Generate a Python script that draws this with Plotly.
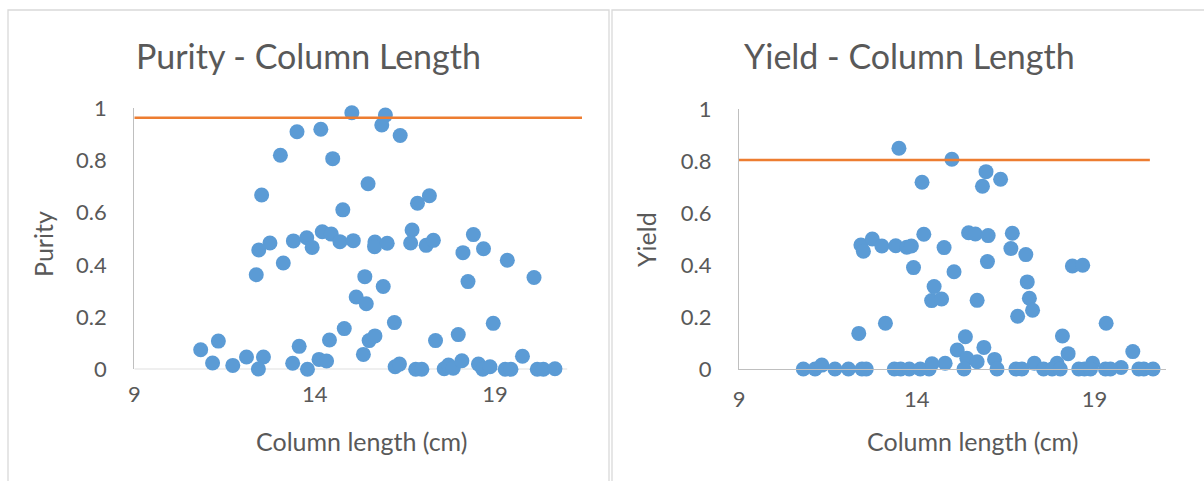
import plotly.graph_objects as go

# ---------------- data ----------------
purity_x = [15.03, 15.96, 15.86, 16.37, 13.51, 14.17, 13.05, 14.50, 15.48, 12.53,
            14.78, 16.85, 17.18, 14.21, 14.46, 13.78, 13.41, 12.76, 12.45, 13.93,
            14.70, 15.07, 15.67, 15.66, 16.01, 16.70, 16.66, 17.09, 17.29, 18.40,
            18.11, 18.68, 19.34, 20.08, 12.38, 13.13, 15.39, 15.90, 18.25,
            15.15, 15.43, 16.21, 14.82, 14.41, 15.51, 15.67, 15.35, 17.35, 17.98,
            18.95, 19.76, 10.84, 11.33, 11.17, 11.73, 12.11, 12.58, 12.44, 13.39,
            13.57, 13.80, 14.12, 14.33, 16.23, 16.35, 16.80, 16.97, 17.59, 17.71,
            17.84, 18.08, 18.54, 18.66, 18.86, 19.28, 19.44, 20.17, 20.34, 20.66]
purity_y = [0.983, 0.974, 0.936, 0.896, 0.910, 0.920, 0.820, 0.807, 0.711, 0.668,
            0.611, 0.636, 0.665, 0.527, 0.518, 0.504, 0.492, 0.484, 0.457, 0.467,
            0.489, 0.493, 0.488, 0.470, 0.483, 0.534, 0.484, 0.475, 0.494, 0.516,
            0.447, 0.462, 0.418, 0.352, 0.362, 0.407, 0.355, 0.317, 0.336,
            0.277, 0.251, 0.179, 0.156, 0.112, 0.110, 0.128, 0.057, 0.110, 0.133,
            0.176, 0.050, 0.075, 0.108, 0.024, 0.015, 0.047, 0.047, 0.001, 0.023,
            0.088, 0.000, 0.038, 0.032, 0.010, 0.020, 0.000, 0.000, 0.002, 0.016,
            0.004, 0.033, 0.020, 0.000, 0.010, 0.000, 0.000, 0.000, 0.000, 0.002]

yield_x = [13.50, 14.99, 15.95, 16.36, 15.85, 14.15, 14.20, 15.46, 15.65, 16.01,
           16.69, 16.65, 17.07, 12.43, 12.75, 12.50, 13.02, 13.41, 13.72, 13.85,
           14.77, 13.91, 15.05, 15.99, 18.38, 18.67, 17.11, 14.49,
           14.42, 14.70, 15.70, 17.17, 17.26, 16.84, 12.37, 13.12, 19.33, 15.37,
           15.14, 15.89, 18.10, 18.26, 20.08, 15.41, 15.70, 16.19, 14.80, 15.33,
           16.26, 17.31, 17.95, 18.95, 19.75,
           10.81, 11.14, 11.33, 11.70, 12.08, 12.46, 12.58, 13.37, 13.55, 13.79,
           14.10, 14.35, 14.43, 16.79, 16.96, 17.57, 17.81, 18.04, 18.56, 18.72,
           18.89, 19.31, 19.45, 20.25, 20.39, 20.65]
yield_y = [0.849, 0.807, 0.759, 0.730, 0.703, 0.718, 0.518, 0.524, 0.519, 0.513,
           0.522, 0.463, 0.440, 0.477, 0.500, 0.453, 0.473, 0.474, 0.468, 0.473,
           0.467, 0.390, 0.374, 0.413, 0.396, 0.399, 0.335, 0.317,
           0.263, 0.269, 0.264, 0.272, 0.226, 0.203, 0.137, 0.176, 0.176, 0.124,
           0.073, 0.083, 0.127, 0.059, 0.067, 0.041, 0.028, 0.037, 0.022, 0.000,
           0.000, 0.022, 0.022, 0.022, 0.006,
           0.000, 0.000, 0.015, 0.000, 0.000, 0.000, 0.000, 0.000, 0.000, 0.000,
           0.000, 0.000, 0.020, 0.000, 0.000, 0.000, 0.000, 0.000, 0.000, 0.000,
           0.000, 0.000, 0.000, 0.000, 0.000, 0.000]

purity_limit_x = [9, 21.41]
purity_limit_y = [0.964, 0.964]
yield_limit_x = [9, 20.56]
yield_limit_y = [0.804, 0.804]

x_ticks = [9, 14, 19]
y_ticks = [0, 0.2, 0.4, 0.6, 0.8, 1]
y_tick_labels = ["0", "0.2", "0.4", "0.6", "0.8", "1"]

titles = ["Purity - Column Length", "Yield - Column Length"]
x_title = "Column length (cm)"
y_titles = ["Purity", "Yield"]

# ---------------- styling ----------------
W, H = 1204, 481
BLUE = "#5B9BD5"
ORANGE = "#ED7D31"
TXT = "#595959"
AXC = "#BFBFBF"
FONT = "Lato, 'Open Sans', sans-serif"

def px(x):
    return x / W

def py(y):
    return 1 - y / H

fig = go.Figure()

fig.add_trace(go.Scatter(x=purity_x, y=purity_y, mode="markers", xaxis="x", yaxis="y",
                         marker=dict(color=BLUE, size=15, line=dict(width=0)),
                         cliponaxis=False, showlegend=False))
fig.add_trace(go.Scatter(x=purity_limit_x, y=purity_limit_y, mode="lines", xaxis="x", yaxis="y",
                         line=dict(color=ORANGE, width=2.5), showlegend=False))
fig.add_trace(go.Scatter(x=yield_x, y=yield_y, mode="markers", xaxis="x2", yaxis="y2",
                         marker=dict(color=BLUE, size=15, line=dict(width=0)),
                         cliponaxis=False, showlegend=False))
fig.add_trace(go.Scatter(x=yield_limit_x, y=yield_limit_y, mode="lines", xaxis="x2", yaxis="y2",
                         line=dict(color=ORANGE, width=2.5), showlegend=False))

xcommon = dict(tickmode="array", tickvals=x_ticks, ticktext=[str(t) for t in x_ticks],
               showgrid=False, zeroline=False, ticks="", showline=False, automargin=False,
               tickfont=dict(family=FONT, size=22, color=TXT), ticklabelstandoff=10)
ycommon = dict(tickmode="array", tickvals=y_ticks, ticktext=y_tick_labels, range=[0, 1],
               showgrid=False, zeroline=False, ticks="", showline=True, linecolor=AXC,
               linewidth=1.3, tickfont=dict(family=FONT, size=22, color=TXT),
               ticklabelstandoff=22, automargin=False)

fig.update_layout(
    width=W, height=H, autosize=False,
    margin=dict(l=0, r=0, t=0, b=0, pad=0, autoexpand=False),
    paper_bgcolor="white", plot_bgcolor="rgba(0,0,0,0)",
    xaxis=dict(domain=[px(134.3), px(582)], range=[9, 21.41], anchor="y", **xcommon),
    yaxis=dict(domain=[py(369.3), py(108.3)], anchor="x", **ycommon),
    xaxis2=dict(domain=[px(739), px(1165.5)], range=[9, 21], anchor="y2", **xcommon),
    yaxis2=dict(domain=[py(369), py(109)], anchor="x2", **ycommon),
)
fig.layout.xaxis2.showline = True
fig.layout.xaxis2.linecolor = AXC
fig.layout.xaxis2.linewidth = 1.3

shapes = [
    dict(type="line", xref="x", yref="y", x0=9, x1=21, y0=0, y1=0,
         line=dict(color=AXC, width=1.3), layer="below"),
    dict(type="rect", xref="paper", yref="paper", x0=px(8), x1=px(609), y0=-0.05, y1=py(10),
         line=dict(color="#D9D9D9", width=1.3), layer="below"),
    dict(type="rect", xref="paper", yref="paper", x0=px(612), x1=1.05, y0=-0.05, y1=py(10),
         line=dict(color="#D9D9D9", width=1.3), layer="below"),
]
fig.update_layout(shapes=shapes)

ann = []
ann.append(dict(text=titles[0], x=px(308), y=py(55), xref="paper", yref="paper",
                showarrow=False, xanchor="center", yanchor="middle",
                font=dict(family=FONT, size=34, color=TXT)))
ann.append(dict(text=titles[1], x=px(909), y=py(55), xref="paper", yref="paper",
                showarrow=False, xanchor="center", yanchor="middle",
                font=dict(family=FONT, size=34, color=TXT)))
ann.append(dict(text=x_title, x=px(361), y=py(441), xref="paper", yref="paper",
                showarrow=False, xanchor="center", yanchor="middle",
                font=dict(family=FONT, size=25, color=TXT)))
ann.append(dict(text=x_title, x=px(972), y=py(441), xref="paper", yref="paper",
                showarrow=False, xanchor="center", yanchor="middle",
                font=dict(family=FONT, size=25, color=TXT)))
ann.append(dict(text=y_titles[0], x=px(43), y=py(244), xref="paper", yref="paper",
                showarrow=False, xanchor="center", yanchor="middle", textangle=-90,
                font=dict(family=FONT, size=25, color=TXT)))
ann.append(dict(text=y_titles[1], x=px(646), y=py(240), xref="paper", yref="paper",
                showarrow=False, xanchor="center", yanchor="middle", textangle=-90,
                font=dict(family=FONT, size=25, color=TXT)))
fig.update_layout(annotations=ann)

fig.write_html("out.html")
